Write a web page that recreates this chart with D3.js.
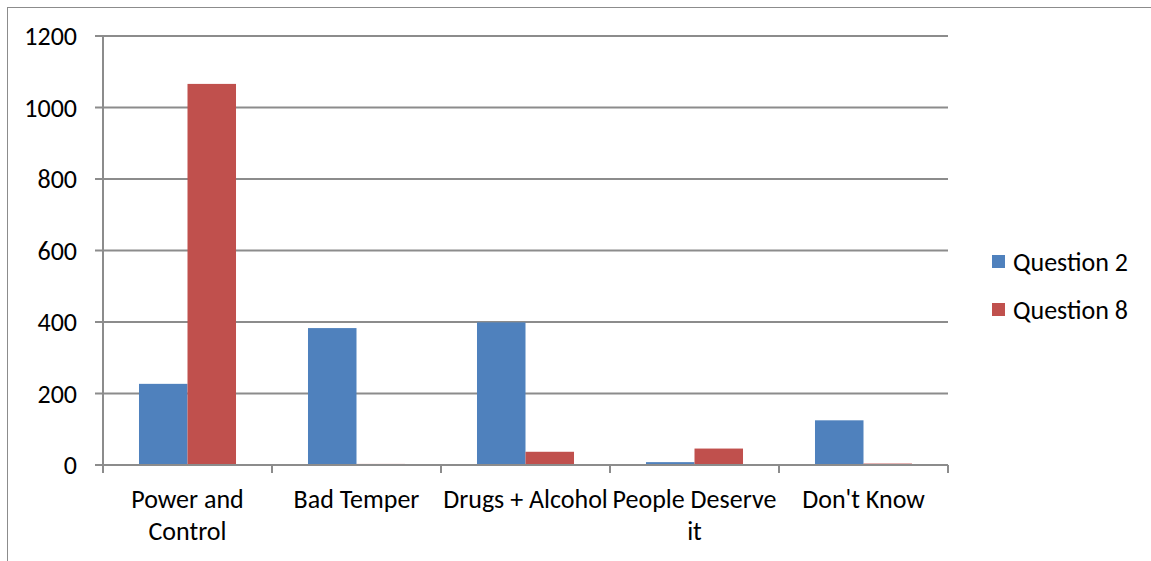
<!DOCTYPE html>
<meta charset="utf-8">
<style>
  body { margin: 0; background: #fff; }
  text { font-family: Carlito, "Open Sans", "Noto Sans", sans-serif; fill: #000; }
</style>
<svg width="1151" height="561"></svg>
<script src="https://d3js.org/d3.v7.min.js"></script>
<script>

var categories = ["Power and Control", "Bad Temper", "Drugs + Alcohol", "People Deserve it", "Don't Know"];
var seriesNames = ["Question 2", "Question 8"];
var question2 = [227, 383, 399, 8, 125];
var question8 = [1066, 3, 37, 46, 4];
var yTicks = [0, 200, 400, 600, 800, 1000, 1200];
var colors = ["#4f81bd", "#c0504d"];

var svg = d3.select("svg");
var fs = "26px";

// outer frame (only left and top visible)
svg.append("rect")
  .attr("x", 7.5).attr("y", 7.5)
  .attr("width", 1200).attr("height", 600)
  .attr("fill", "none").attr("stroke", "#8c8c8c").attr("stroke-width", 1);

var margin = {left: 103, right: 948, top: 36, bottom: 465};

var x = d3.scaleBand().domain(categories).range([margin.left, margin.right]).paddingInner(0).paddingOuter(0);
var y = d3.scaleLinear().domain([0, 1200]).range([margin.bottom, margin.top]);
var xSub = d3.scaleBand().domain(seriesNames).range([0, x.bandwidth()]).paddingInner(0).paddingOuter(0.742);

var g = svg.append("g");

// gridlines
g.selectAll(".grid").data(yTicks).enter().append("line")
  .attr("x1", margin.left - 8).attr("x2", margin.right)
  .attr("y1", function(d) { return y(d); }).attr("y2", function(d) { return y(d); })
  .attr("stroke", "#8c8c8c").attr("stroke-width", 2);

// y axis line
g.append("line")
  .attr("x1", margin.left).attr("x2", margin.left)
  .attr("y1", margin.top).attr("y2", margin.bottom + 8)
  .attr("stroke", "#8c8c8c").attr("stroke-width", 2);

// y tick labels
g.selectAll(".ylab").data(yTicks).enter().append("text")
  .attr("x", 77).attr("y", function(d) { return y(d); })
  .attr("dy", "0.35em").attr("text-anchor", "end")
  .style("font-size", fs)
  .text(function(d) { return d; });

// x category tick marks
var bounds = categories.map(function(c) { return x(c); }).concat([margin.right]);
g.selectAll(".xtick").data(bounds).enter().append("line")
  .attr("x1", function(d) { return d; }).attr("x2", function(d) { return d; })
  .attr("y1", margin.bottom).attr("y2", margin.bottom + 8)
  .attr("stroke", "#8c8c8c").attr("stroke-width", 2);

// bars
var series = [question2, question8];
series.forEach(function(vals, si) {
  g.selectAll(".bar" + si).data(vals).enter().append("rect")
    .attr("x", function(d, i) { return x(categories[i]) + xSub(seriesNames[si]); })
    .attr("y", function(d) { return y(d); })
    .attr("width", xSub.bandwidth())
    .attr("height", function(d) { return y(0) - y(d); })
    .attr("fill", colors[si]);
});

// x axis baseline over bars
g.append("line")
  .attr("x1", margin.left).attr("x2", margin.right)
  .attr("y1", margin.bottom).attr("y2", margin.bottom)
  .attr("stroke", "#8c8c8c").attr("stroke-width", 2);

// category labels with wrapping
g.selectAll(".xlab").data(categories).enter().append("text")
  .attr("x", function(d) { return x(d) + x.bandwidth() / 2; })
  .attr("y", 508)
  .attr("text-anchor", "middle")
  .style("font-size", fs)
  .each(function(d) {
    var t = d3.select(this), words = d.split(" "), line = [];
    var tspan = t.append("tspan").attr("x", t.attr("x")).attr("dy", 0);
    words.forEach(function(w) {
      line.push(w);
      tspan.text(line.join(" "));
      if (tspan.node().getComputedTextLength() > x.bandwidth() && line.length > 1) {
        line.pop();
        tspan.text(line.join(" "));
        line = [w];
        tspan = t.append("tspan").attr("x", t.attr("x")).attr("dy", 32).text(w);
      }
    });
  });

// legend
var legend = svg.append("g");
seriesNames.forEach(function(name, i) {
  var ly = 262 + i * 48;
  legend.append("rect").attr("x", 992).attr("y", ly - 7).attr("width", 13).attr("height", 13).attr("fill", colors[i]);
  legend.append("text").attr("x", 1013).attr("y", ly).attr("dy", "0.35em")
    .style("font-size", fs).text(name);
});

</script>
